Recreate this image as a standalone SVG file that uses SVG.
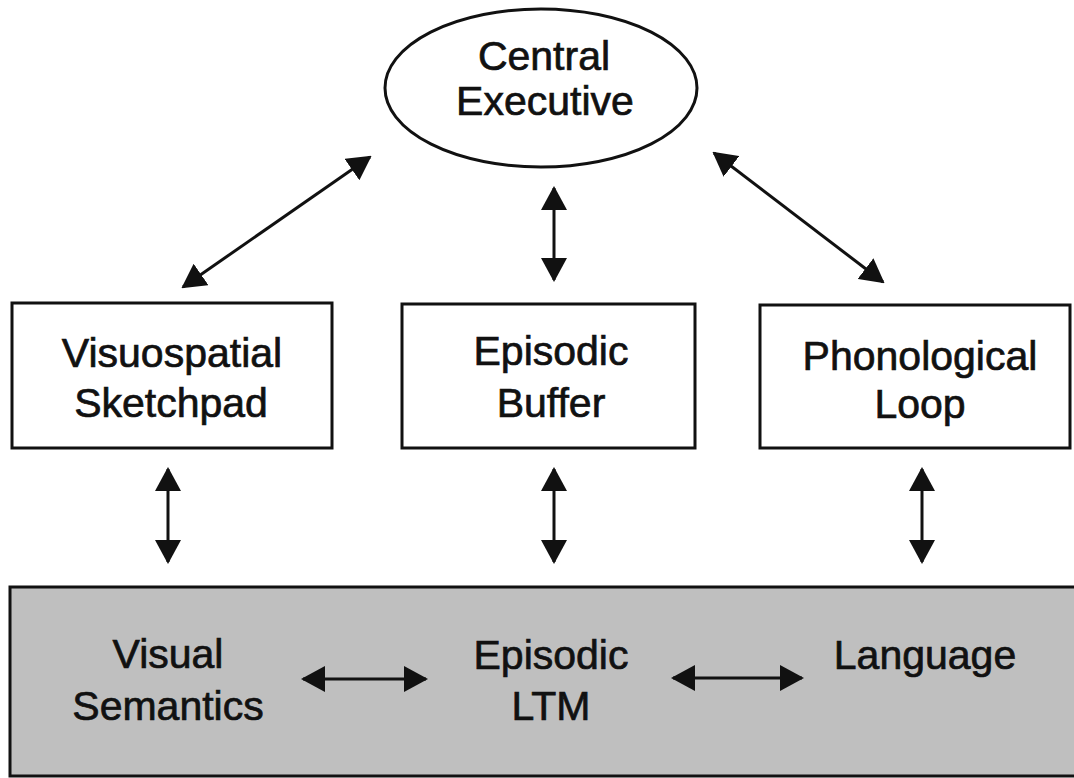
<svg xmlns="http://www.w3.org/2000/svg" width="1074" height="778" viewBox="0 0 1074 778">
<style>
.box{fill:#fff;stroke:#111;stroke-width:3}
.lbl{font-family:"Liberation Sans",Arial,sans-serif;font-size:41px;fill:#111;stroke:#111;stroke-width:0.7;text-anchor:middle}
.con{stroke:#111;stroke-width:3;fill:none;marker-start:url(#ah);marker-end:url(#ah)}
</style>
<defs>
<marker id="ah" markerUnits="userSpaceOnUse" markerWidth="24" markerHeight="26" viewBox="0 0 24 26" refX="22" refY="13" orient="auto-start-reverse">
<path d="M0,0 L24,13 L0,26 Z" fill="#111"/>
</marker>
</defs>
<rect width="1074" height="778" fill="#fff"/>
<g id="ltm">
<rect x="10" y="587" width="1080" height="189" fill="#bfbfbf" stroke="#111" stroke-width="3"/>
<text class="lbl" x="168" y="668">Visual</text>
<text class="lbl" x="168" y="720">Semantics</text>
<text class="lbl" x="551" y="669">Episodic</text>
<text class="lbl" x="551" y="720">LTM</text>
<text class="lbl" x="925" y="669">Language</text>
</g>
<g id="central-executive">
<ellipse cx="541" cy="88" rx="156" ry="79" class="box"/>
<text class="lbl" x="544" y="70">Central</text>
<text class="lbl" x="545" y="115">Executive</text>
</g>
<g id="visuospatial-sketchpad">
<rect x="12" y="303" width="320" height="145" class="box"/>
<text class="lbl" x="172" y="367">Visuospatial</text>
<text class="lbl" x="171" y="417">Sketchpad</text>
</g>
<g id="episodic-buffer">
<rect x="402" y="304" width="293" height="144" class="box"/>
<text class="lbl" x="551" y="365">Episodic</text>
<text class="lbl" x="551" y="417">Buffer</text>
</g>
<g id="phonological-loop">
<rect x="760" y="305" width="310" height="143" class="box"/>
<text class="lbl" x="920" y="370">Phonological</text>
<text class="lbl" x="920" y="418">Loop</text>
</g>
<g id="connectors">
<line class="con" x1="183" y1="287" x2="370" y2="157"/>
<line class="con" x1="554" y1="188" x2="554" y2="280"/>
<line class="con" x1="714" y1="153" x2="883" y2="282"/>
<line class="con" x1="168" y1="469" x2="168" y2="562"/>
<line class="con" x1="554" y1="469" x2="554" y2="562"/>
<line class="con" x1="922" y1="469" x2="922" y2="562"/>
<line class="con" x1="303" y1="679" x2="426" y2="679"/>
<line class="con" x1="673" y1="678" x2="802" y2="678"/>
</g>
</svg>
